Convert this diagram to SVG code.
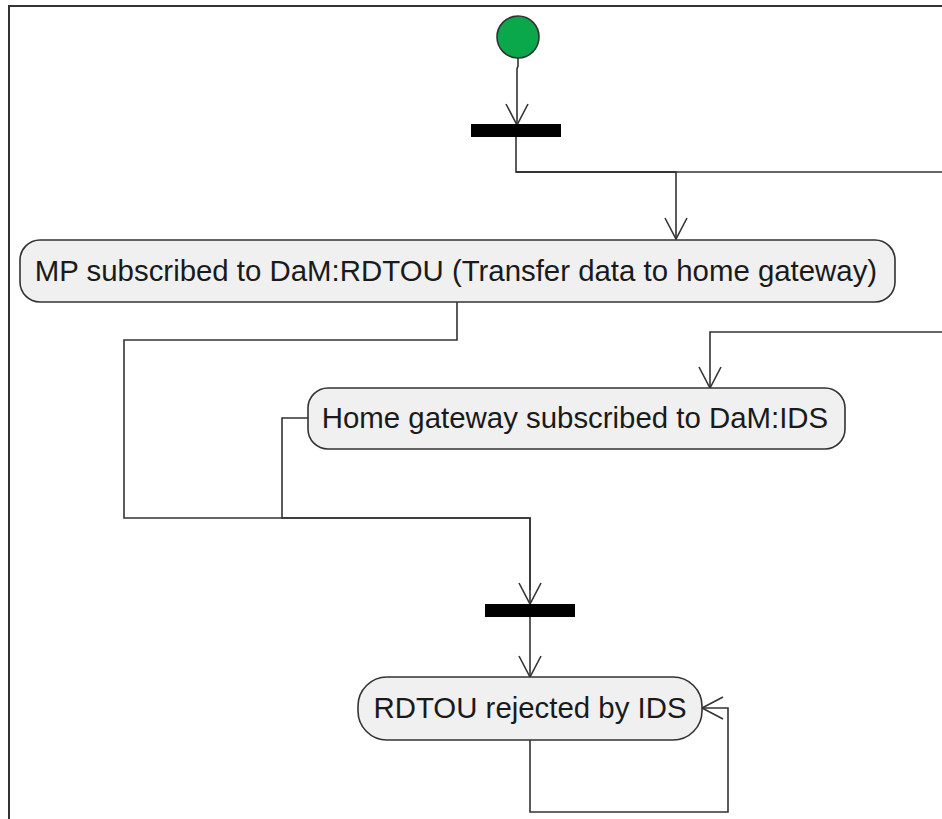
<svg xmlns="http://www.w3.org/2000/svg" width="942" height="819" viewBox="0 0 942 819">
<style>
.frame{fill:none;stroke:#333;stroke-width:2}
.node{fill:#f0f0f0;stroke:#333;stroke-width:1.6}
.lbl{font-family:"Liberation Sans",Arial,sans-serif;font-size:29.4px;fill:#1a1a1a;text-anchor:middle}
.edge{fill:none;stroke:#333;stroke-width:1.6}
.bar{fill:#000}
</style>
<defs>
<marker id="arr" viewBox="-23 -13 25 26" markerWidth="25" markerHeight="26" refX="0" refY="0" orient="auto" markerUnits="userSpaceOnUse">
<path d="M-21,-11 L0,0 L-21,11" fill="none" stroke="#333" stroke-width="1.6"/>
</marker>
</defs>
<rect width="942" height="819" fill="#fff"/>
<path class="frame" d="M9,819 L9,6 L942,6"/>
<g id="connectors">
<path class="edge" d="M518,58 L518,66 L517,69 L517,125" marker-end="url(#arr)"/>
<path class="edge" d="M516,137 L516,172 L676,172 L676,239" marker-end="url(#arr)" stroke-width="2"/>
<path class="edge" d="M516,172 L676,172" stroke-width="3"/>
<path class="edge" d="M516,172 L942,172"/>
<path class="edge" d="M942,332 L710,332 L710,388" marker-end="url(#arr)"/>
<path class="edge" d="M457,302 L457,340 L124,340 L124,518 L530,518 L530,604" marker-end="url(#arr)"/>
<path class="edge" d="M308,418 L282,418 L282,518 L530,518 L530,590" stroke-width="2"/>
<path class="edge" d="M530,617 L530,677" marker-end="url(#arr)"/>
<path class="edge" d="M530,740 L530,812 L728,812 L728,708 L702,708" marker-end="url(#arr)"/>
</g>
<g id="start">
<circle cx="518" cy="37" r="21" fill="#0aa84a" stroke="#333" stroke-width="1.6"/>
</g>
<g id="fork1">
<rect class="bar" x="471" y="124" width="90" height="13"/>
</g>
<g id="node1">
<rect class="node" x="20" y="240" width="875" height="62" rx="20" ry="20"/>
<text class="lbl" x="456" y="281">MP subscribed to DaM:RDTOU (Transfer data to home gateway)</text>
</g>
<g id="node2">
<rect class="node" x="308" y="388" width="537" height="61" rx="20" ry="20"/>
<text class="lbl" x="575" y="428">Home gateway subscribed to DaM:IDS</text>
</g>
<g id="join1">
<rect class="bar" x="485" y="604" width="90" height="13"/>
</g>
<g id="node3">
<rect class="node" x="358" y="677" width="344" height="63" rx="29" ry="29"/>
<text class="lbl" x="530" y="718">RDTOU rejected by IDS</text>
</g>
</svg>
